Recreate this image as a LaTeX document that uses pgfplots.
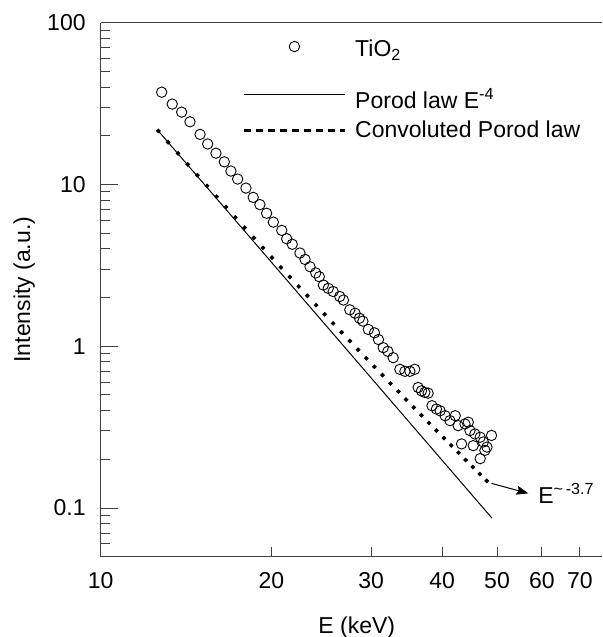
\documentclass[border=0pt]{standalone}
\usepackage{fontspec}
\setmainfont{Liberation Sans}
\usepackage{pgfplots}
\pgfplotsset{compat=1.18}
\usetikzlibrary{arrows.meta}

\pgfplotstableread{
E I
12.81 37.2
13.37 31.4
13.89 28.0
14.37 24.4
14.97 20.4
15.44 17.8
15.97 15.6
16.52 13.8
16.97 12.1
17.44 10.8
18.04 9.50
18.58 8.32
19.09 7.51
19.62 6.64
20.16 5.85
20.86 5.20
21.28 4.62
21.77 4.27
22.46 3.77
22.93 3.44
23.40 3.10
23.95 2.84
24.30 2.69
24.70 2.39
25.20 2.28
25.70 2.18
26.40 2.03
26.80 1.93
27.50 1.68
28.10 1.60
28.60 1.49
29.00 1.43
29.65 1.27
30.40 1.21
30.90 1.10
31.50 0.98
32.10 0.93
32.80 0.85
33.70 0.72
34.40 0.70
35.10 0.70
35.80 0.72
36.30 0.556
36.80 0.530
37.30 0.518
37.80 0.513
38.40 0.429
39.10 0.409
39.70 0.399
40.50 0.372
41.30 0.347
42.20 0.372
42.70 0.323
43.30 0.249
43.90 0.331
44.50 0.339
44.80 0.301
45.40 0.243
45.70 0.287
46.70 0.274
46.70 0.202
47.30 0.256
47.60 0.227
48.00 0.238
48.90 0.281
}\tio

\pgfplotstableread{
E I
12.64 21.42
13.15 18.25
13.69 15.57
14.24 13.31
14.81 11.40
15.40 9.79
16.01 8.41
16.63 7.25
17.28 6.26
17.94 5.41
18.63 4.68
19.33 4.06
20.05 3.53
20.79 3.07
21.56 2.68
22.35 2.34
23.15 2.05
23.98 1.794
24.83 1.575
25.70 1.385
26.60 1.220
27.51 1.077
28.45 0.951
29.41 0.842
30.39 0.746
31.40 0.663
32.43 0.589
33.49 0.525
34.56 0.4683
35.66 0.4183
36.79 0.3744
37.93 0.3355
39.10 0.3011
40.30 0.2706
41.51 0.2436
42.76 0.2196
44.02 0.1982
45.31 0.1792
46.62 0.1622
47.95 0.1471
}\conv

\pgfplotstableread{
E I
12.64 21.4
49.0 0.0865
}\porod

\begin{document}
\fontsize{11.5}{13.8}\selectfont
\begin{tikzpicture}
\path[use as bounding box] (0,0) rectangle (301pt,318.5pt);
\begin{axis}[
  at={(50.35pt,40.15pt)}, anchor=south west,
  scale only axis, width=250.65pt, height=267pt,
  xmode=log, ymode=log,
  xmin=10, xmax=76.6, ymin=0.05, ymax=100,
  axis x line*=box, axis y line*=left,
  xtick pos=bottom, ytick pos=left,
  xtick={10,20,30,40,50,60,70}, xticklabels={10,20,30,40,50,60,70},
  minor xtick={},
  ytick={0.1,1,10,100}, yticklabels={0.1,1,10,100},
  minor ytick={0.05,0.06,0.07,0.08,0.09,0.2,0.3,0.4,0.5,0.6,0.7,0.8,0.9,2,3,4,5,6,7,8,9,20,30,40,50,60,70,80,90},
  major tick length=8.5pt, minor tick length=4.5pt,
  xtick style={/pgfplots/major tick length=5pt},
  axis line style={black!75, line width=0.65pt},
  every tick/.style={black!75, line width=0.5pt},
  xticklabel style={inner sep=0pt, anchor=north, yshift=-7.5pt},
  yticklabel style={inner sep=0pt, anchor=east, xshift=-7.35pt},
  xlabel={E (keV)},
  xlabel style={at={(axis description cs:0.5107,-0.1434)}, anchor=base, inner sep=0pt},
  ylabel={Intensity (a.u.)},
  ylabel style={at={(axis description cs:-0.141,0.5)}, anchor=base, inner sep=0pt},
  clip=false,
  legend style={draw=none, fill=none, at={(axis description cs:0.2819,0.9676)}, anchor=north west,
    inner sep=0pt, outer sep=0pt, row sep=4.6pt, column sep=4.25pt, nodes={inner sep=0pt}},
  legend cell align=left,
]
\addplot[only marks, mark=o, mark size=2.6pt, mark options={line width=0.45pt}, black, forget plot] table[x=E, y=I] {\tio};
\addplot[black, line width=0.5pt, forget plot] table[x=E, y=I] {\porod};
\addplot[only marks, mark=*, mark size=0.95pt, black, forget plot] table[x=E, y=I] {\conv};

\addlegendimage{only marks, mark=o, mark size=2.6pt, mark options={line width=0.45pt}, black,
  legend image code/.code={\path[draw=none] (0pt,0pt) -- (50.75pt,0pt);
    \draw plot[mark=o, mark size=2.6pt, mark options={draw=black, line width=0.45pt}] coordinates {(25.4pt,6.5pt)};}}
\addlegendentry[text depth=11.2pt]{TiO\textsubscript{2}}
\addlegendimage{black, line width=0.6pt,
  legend image code/.code={\draw[black, line width=0.6pt] (0pt,2.5pt) -- (50.75pt,2.5pt);}}
\addlegendentry{Porod law E\textsuperscript{-4}}
\addlegendimage{black, line width=1.6pt, dash pattern=on 3.5pt off 2.5pt,
  legend image code/.code={\draw[black, line width=1.6pt, dash pattern=on 3.5pt off 2.5pt] (0pt,0pt) -- (50.75pt,0pt);}}
\addlegendentry{Convoluted Porod law}

\draw[-{Stealth[length=6pt,width=4.5pt,inset=1pt]}, line width=0.5pt, black]
  (axis cs:48.9,0.142) -- (axis cs:56.8,0.1231);
\node[anchor=base west, inner sep=0pt] at (axis cs:59.06,0.1069) {E\textsuperscript{\textasciitilde\,-3.7}};
\end{axis}
\end{tikzpicture}
\end{document}
